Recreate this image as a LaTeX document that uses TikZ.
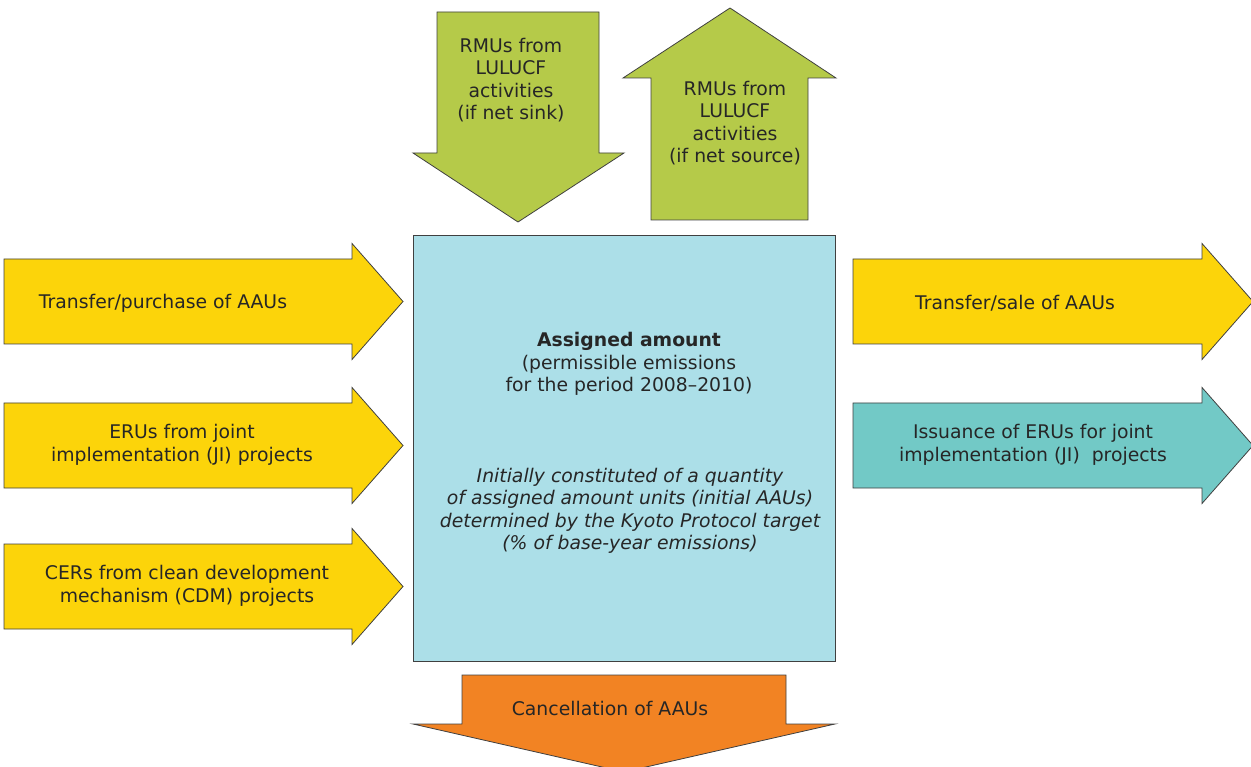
\documentclass[tikz,border=0pt]{standalone}
\usepackage{fontspec}
\setmainfont{DejaVu Sans}
\definecolor{aauyellow}{HTML}{FCD40A}
\definecolor{rmugreen}{HTML}{B5CA49}
\definecolor{amountblue}{HTML}{ACDFE8}
\definecolor{erucyan}{HTML}{72C9C6}
\definecolor{cancelorange}{HTML}{F28323}
\definecolor{textgrey}{HTML}{262626}
\definecolor{edgegrey}{HTML}{404040}
% horizontal block arrow: fill, left end, head base, middle
\newcommand{\blockright}[4]{%
  \draw[blockline, fill=#1] (#2,#4-42.5) -- (#3,#4-42.5) -- (#3,#4-58)
    -- (#3+51,#4) -- (#3,#4+58) -- (#3,#4+42.5) -- (#2,#4+42.5) -- cycle;}

\begin{document}
\begin{tikzpicture}[x=1pt, y=-1pt,
    blockline/.style={draw=edgegrey, line width=0.8pt, line join=miter},
    flowtext/.style={text=textgrey, align=center, inner sep=0pt,
      font=\fontsize{18.8}{22.5}\selectfont}]
    \useasboundingbox (0,0) rectangle (1251,767);
    %\fill[white] (0,0) rectangle (1251,767);

    % assigned amount box
    \draw[blockline, fill=amountblue] (413,235) rectangle (835,661);

    % in from the left
    \blockright{aauyellow}{4}{352}{301.5}
    \blockright{aauyellow}{4}{352}{445.5}
    \blockright{aauyellow}{4}{352}{586.5}
    % out to the right
    \blockright{aauyellow}{853}{1202}{301.5}
    \blockright{erucyan}{853}{1202}{445.5}

    % LULUCF arrows
    \draw[blockline, fill=rmugreen] (437,12) -- (599,12) -- (599,153) -- (624,153)
      -- (518,222) -- (413,153) -- (437,153) -- cycle;
    \draw[blockline, fill=rmugreen] (651,220) -- (808,220) -- (808,78) -- (836,78)
      -- (730,8) -- (623,78) -- (651,78) -- cycle;
    % cancellation
    \draw[blockline, fill=cancelorange] (462,675) -- (786,675) -- (786,724) -- (835,724)
      -- (624,772) -- (413,724) -- (462,724) -- cycle;

    \node[flowtext] (purchase) at (163,303) {Transfer/purchase of AAUs};
    \node[flowtext] (eruin) at (182,445) {ERUs from joint\\implementation (JI) projects};
    \node[flowtext] (cerin) at (187,586) {CERs from clean development\\mechanism (CDM) projects};
    \node[flowtext] (sale) at (1015,303) {Transfer/sale of AAUs};
    \node[flowtext] (eruout) at (1033,445) {Issuance of ERUs for joint\\implementation (JI)~ projects};
    \node[flowtext] (sink) at (511,80) {RMUs from\\LULUCF\\activities\\(if net sink)};
    \node[flowtext] (source) at (735,123) {RMUs from\\LULUCF\\activities\\(if net source)};
    \node[flowtext] (amount) at (629,364) {\textbf{Assigned amount}\\(permissible emissions\\for the period 2008–2010)};
    \node[flowtext, font=\fontsize{18.8}{22.5}\selectfont\itshape] (initial) at (630,511)
      {Initially constituted of a quantity\\of assigned amount units (initial AAUs)\\determined by the Kyoto Protocol target\\(\% of base-year emissions)};
    \node[flowtext] (cancel) at (610,708) {Cancellation of AAUs};
\end{tikzpicture}
\end{document}
